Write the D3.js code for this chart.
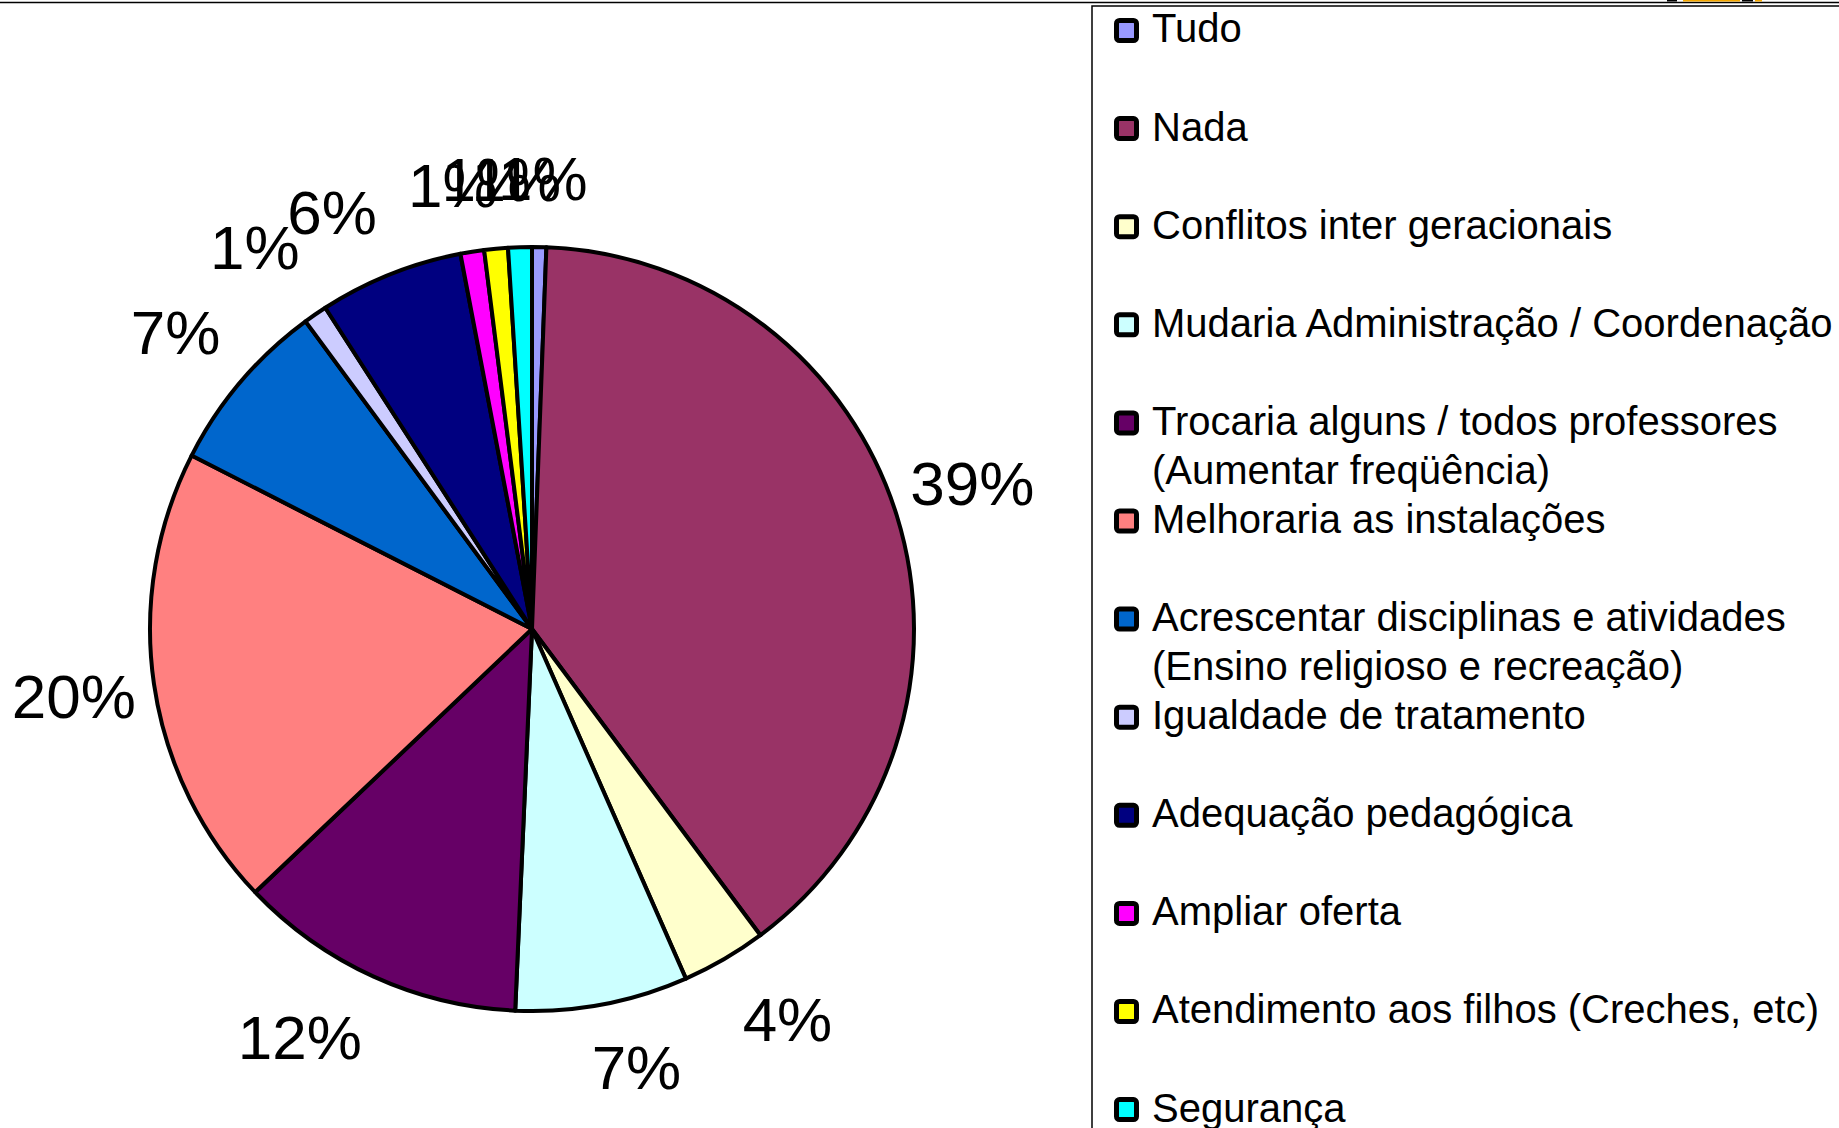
<!DOCTYPE html>
<html>
<head>
<meta charset="utf-8">
<script src="https://cdn.jsdelivr.net/npm/d3@7"></script>
<style>
    body { margin: 0; background: #fff; }
    svg { display: block; }
    .pct { font-family: "Liberation Sans", Arial, sans-serif; font-size: 62px; fill: #000; }
    .legend-text { font-family: "Liberation Sans", Arial, sans-serif; font-size: 40px; fill: #000; }
</style>
</head>
<body>
<svg class="canvas"></svg>
<script>
// answers, in the order Excel draws them (clockwise from 12 o'clock)
const categories = [
    'Tudo',
    'Nada',
    'Conflitos inter geracionais',
    'Mudaria Administração / Coordenação',
    'Trocaria alguns / todos professores\n(Aumentar freqüência)',
    'Melhoraria as instalações',
    'Acrescentar disciplinas e atividades\n(Ensino religioso e recreação)',
    'Igualdade de tratamento',
    'Adequação pedagógica',
    'Ampliar oferta',
    'Atendimento aos filhos (Creches, etc)',
    'Segurança'
];
const shares = [0.6, 39.2, 3.6, 7.3, 12.2, 19.6, 7.4, 1.0, 6.1, 1.0, 1.0, 1.0];
const colors = ['#9999FF', '#993366', '#FFFFCC', '#CCFFFF', '#660066', '#FF8080',
                '#0066CC', '#CCCCFF', '#000080', '#FF00FF', '#FFFF00', '#00FFFF'];

const width = 1839, height = 1128;
const center = {x: 532, y: 629};
const radius = 382;

// Excel nudges its outside labels a little; shift (degrees) and distance from the centre per label
const labelShift = [0.3, -1.1, -3, -2.8, 5.2, 0, -0.5, -1.4, -3.8, -1.1, -0.4, -0.2];
const labelDist = [451, 464, 466, 450, 469, 463, 464, 472, 463, 451, 453, 451];

const svg = d3.select('.canvas')
    .attr('width', width)
    .attr('height', height);

// page rule along the top and the bit of picture cut off above it
svg.append('line')
    .attr('x1', 0).attr('x2', width)
    .attr('y1', 2.5).attr('y2', 2.5)
    .attr('stroke', '#000').attr('stroke-width', 1.5);
svg.append('rect').attr('x', 1667).attr('y', 0).attr('width', 10).attr('height', 1.5).attr('fill', '#000');
svg.append('rect').attr('x', 1683).attr('y', 0).attr('width', 57).attr('height', 1.5).attr('fill', '#F5A800');
svg.append('rect').attr('x', 1742).attr('y', 0).attr('width', 11).attr('height', 1.5).attr('fill', '#000');
svg.append('rect').attr('x', 1755).attr('y', 0).attr('width', 7).attr('height', 1.5).attr('fill', '#F5A800');

/**
 * pie
 */
const pie = d3.pie().sort(null).value(d => d);
const arc = d3.arc().innerRadius(0).outerRadius(radius);
const arcs = pie(shares);

const chart = svg.append('g')
    .classed('chart', true)
    .attr('transform', 'translate(' + center.x + ',' + center.y + ')');

chart.selectAll('path.slice')
    .data(arcs)
    .enter().append('path')
    .classed('slice', true)
    .attr('d', arc)
    .attr('fill', (d, i) => colors[i])
    .attr('stroke', '#000')
    .attr('stroke-width', 4)
    .attr('stroke-linejoin', 'round');

const labelAngle = (d, i) => (d.startAngle + d.endAngle) / 2 + labelShift[i] * Math.PI / 180;

chart.selectAll('text.pct')
    .data(arcs)
    .enter().append('text')
    .classed('pct', true)
    .attr('x', (d, i) => labelDist[i] * Math.sin(labelAngle(d, i)))
    .attr('y', (d, i) => -labelDist[i] * Math.cos(labelAngle(d, i)))
    .attr('dy', '0.36em')
    .attr('text-anchor', 'middle')
    .text(d => Math.round(d.value) + '%');

/**
 * legend
 */
const legend = {x: 1092, y: 6, lineHeight: 49.05, firstLine: 28};

svg.append('path')
    .attr('d', 'M' + (width + 5) + ',' + legend.y + 'H' + legend.x + 'V' + (height + 5))
    .attr('fill', 'none')
    .attr('stroke', '#000')
    .attr('stroke-width', 1.5);

const items = svg.append('g').classed('legend', true)
    .selectAll('g')
    .data(categories)
    .enter().append('g')
    .attr('transform', (d, i) => 'translate(0,' + (legend.firstLine + 2 * i * legend.lineHeight) + ')');

items.append('rect')
    .attr('x', 1116.5).attr('y', -7.5)
    .attr('width', 20).attr('height', 20)
    .attr('rx', 3)
    .attr('fill', (d, i) => colors[i])
    .attr('stroke', '#000')
    .attr('stroke-width', 5);

items.append('text')
    .classed('legend-text', true)
    .selectAll('tspan')
    .data(d => d.split('\n'))
    .enter().append('tspan')
    .attr('x', 1152)
    .attr('y', (d, j) => j * legend.lineHeight)
    .attr('dy', '0.36em')
    .text(d => d);
</script>
</body>
</html>
